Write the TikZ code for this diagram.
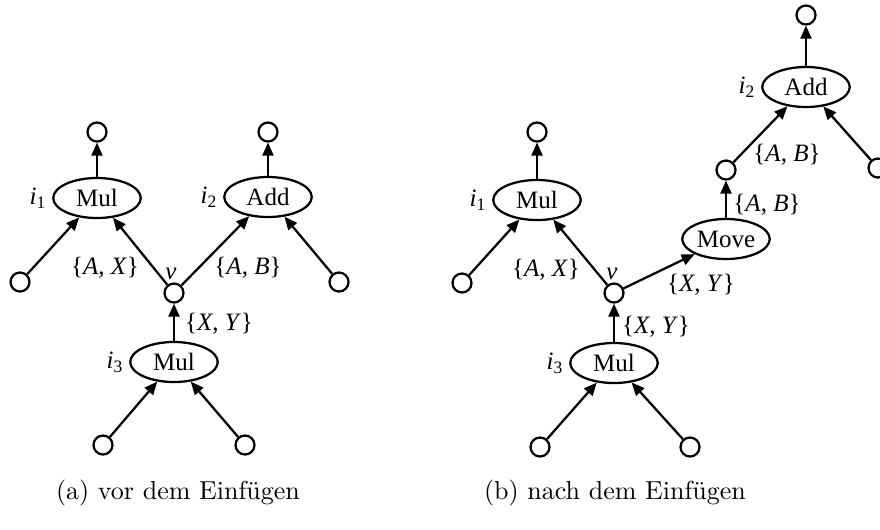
\documentclass[tikz,border=0pt]{standalone}
\usepackage{fontspec}
\newfontfamily\graphfont{Liberation Serif}
\usetikzlibrary{arrows.meta,positioning,shapes.geometric}

\begin{document}
\begin{tikzpicture}[x=0.4pt, y=-0.4pt,
    op/.style={draw, ellipse, line width=0.9pt, minimum width=35pt, minimum height=16pt, inner sep=0pt, font=\graphfont},
    val/.style={draw, circle, line width=0.9pt, minimum size=7.6pt, inner sep=0pt},
    arr/.style={-{Triangle[length=5.2pt,width=4.4pt]}, line width=0.9pt},
    lbl/.style={font=\graphfont, inner sep=0pt},
    captext/.style={font=\fontsize{10.4}{12.5}\selectfont, inner sep=0pt},
]
\useasboundingbox (0,0) rectangle (880,529);

% (a) before
\node[op] (mulA) at (97,198) {Mul};
\node[val] (outA) at (97,132) {};
\node[op] (addA) at (268,197) {Add};
\node[val] (outB) at (268,132) {};
\node[val] (inA) at (20,282) {};
\node[val] (vA) at (174,293) {};
\node[val] (inB) at (339,282) {};
\node[op] (mulB) at (174,362) {Mul};
\node[val] (inC) at (103,445) {};
\node[val] (inD) at (245,445) {};

\node[lbl, left=2pt of mulA] (iA) {\textit{i}\textsubscript{1}};
\node[lbl, left=2pt of addA] (iB) {\textit{i}\textsubscript{2}};
\node[lbl, left=2pt of mulB] (iC) {\textit{i}\textsubscript{3}};
\node[lbl] (vlA) at (171,274) {\textit{v}};
\node[lbl] (axA) at (105,268) {\{\textit{A}, \textit{X}\}};
\node[lbl] (abA) at (248,268) {\{\textit{A}, \textit{B}\}};
\node[lbl] (xyA) at (219,324) {\{\textit{X}, \textit{Y}\}};

\draw[arr] (mulA) -- (outA);
\draw[arr] (addA) -- (outB);
\draw[arr] (inA) -- (mulA);
\draw[arr] (vA) -- (mulA);
\draw[arr] (vA) -- (addA);
\draw[arr] (inB) -- (addA);
\draw[arr] (mulB) -- (vA);
\draw[arr] (inC) -- (mulB);
\draw[arr] (inD) -- (mulB);

\node[captext] (capA) at (178,493) {(a) vor dem Einfügen};

% (b) after
\node[op] (mulC) at (537,200) {Mul};
\node[val] (outC) at (537,132) {};
\node[val] (inE) at (462,283) {};
\node[val] (vB) at (614,293) {};
\node[op] (mulD) at (614,363) {Mul};
\node[val] (inF) at (540,447) {};
\node[val] (inG) at (690,447) {};
\node[op] (move) at (726,239) {Move};
\node[val] (wB) at (726,170) {};
\node[op] (addB) at (806,87) {Add};
\node[val] (outD) at (806,15) {};
\node[val] (inH) at (878,168) {};

\node[lbl, left=2pt of mulC] (iD) {\textit{i}\textsubscript{1}};
\node[lbl, left=2pt of addB] (iE) {\textit{i}\textsubscript{2}};
\node[lbl, left=2pt of mulD] (iF) {\textit{i}\textsubscript{3}};
\node[lbl] (vlB) at (612,274) {\textit{v}};
\node[lbl] (axB) at (546,270) {\{\textit{A}, \textit{X}\}};
\node[lbl] (xyB) at (656,327) {\{\textit{X}, \textit{Y}\}};
\node[lbl] (xyC) at (701,285) {\{\textit{X}, \textit{Y}\}};
\node[lbl] (abB) at (767,205) {\{\textit{A}, \textit{B}\}};
\node[lbl] (abC) at (787,155) {\{\textit{A}, \textit{B}\}};

\draw[arr] (mulC) -- (outC);
\draw[arr] (inE) -- (mulC);
\draw[arr] (vB) -- (mulC);
\draw[arr] (vB) -- (move);
\draw[arr] (move) -- (wB);
\draw[arr] (wB) -- (addB);
\draw[arr] (inH) -- (addB);
\draw[arr] (addB) -- (outD);
\draw[arr] (mulD) -- (vB);
\draw[arr] (inF) -- (mulD);
\draw[arr] (inG) -- (mulD);

\node[captext] (capB) at (615,493) {(b) nach dem Einfügen};
\end{tikzpicture}
\end{document}
